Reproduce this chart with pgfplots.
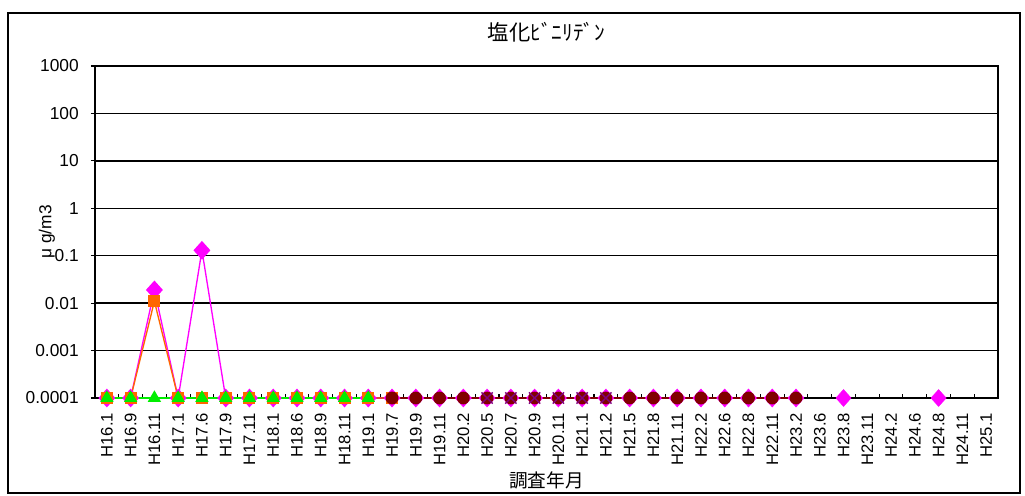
\documentclass[border=0pt]{standalone}
\usepackage{fontspec}
\setmainfont{Liberation Sans}
\newfontfamily\jp{Noto Sans CJK JP}
\usepackage{pgfplots}
\pgfplotsset{compat=1.18}
\definecolor{exorange}{HTML}{FF6600}
\definecolor{exgreen}{HTML}{00EE00}
\definecolor{exmag}{HTML}{FF00FF}
\definecolor{exdred}{HTML}{800000}
\definecolor{expurple}{HTML}{800080}

\begin{document}
\begin{tikzpicture}
\useasboundingbox (-71.25pt,-73.5pt) rectangle (697.5pt,298.5pt);
\draw[line width=1pt] (-65.25pt,-71.25pt) rectangle (693.75pt,288.75pt);
\begin{axis}[
  at={(0,0)}, anchor=south west,
  scale only axis, width=677.25pt, height=249pt,
  ymode=log, ymin=1e-4, ymax=1e3,
  xmin=-0.5, xmax=37.5,
  xtick={0,...,37},
  xticklabels={H16.1,H16.9,H16.11,H17.1,H17.6,H17.9,H17.11,H18.1,H18.6,H18.9,H18.11,H19.1,H19.7,H19.9,H19.11,H20.2,H20.5,H20.7,H20.9,H20.11,H21.1,H21.2,H21.5,H21.8,H21.11,H22.2,H22.6,H22.8,H22.11,H23.2,H23.6,H23.8,H23.11,H24.2,H24.6,H24.8,H24.11,H25.1},
  major x tick style={draw=none},
  minor xtick={-0.5,0.5,...,37.5},
  xtick pos=bottom, ytick pos=left,
  ytick={1e-4,1e-3,1e-2,1e-1,1,10,100,1000},
  yticklabels={0.0001,0.001,0.01,0.1,1,10,100,1000},
  yminorticks=false,
  y tick style={xshift=-3pt},
  tick style={black, line width=0.8pt},
  major tick length=3pt, minor tick length=3pt,
  ymajorgrids, major grid style={black, line width=1pt},
  axis line style={line width=1.3pt},
  xticklabel style={rotate=90, anchor=east, inner sep=0pt, font=\fontsize{12.5}{14}\selectfont},
  xticklabel shift=11pt,
  yticklabel style={anchor=east, inner sep=0pt, font=\fontsize{13}{15}\selectfont},
  yticklabel shift=12pt,
  title={\jp 塩化ﾋﾞﾆﾘﾃﾞﾝ},
  title style={at={(rel axis cs:0.5,1)}, anchor=center, yshift=19.5pt, font=\fontsize{16}{18}\selectfont},
  xlabel={\jp 調査年月},
  xlabel style={at={(rel axis cs:0.5,0)}, anchor=center, yshift=-62pt, font=\fontsize{14}{16}\selectfont},
  ylabel={μ g/m3},
  ylabel style={at={(axis description cs:-0.0532,0.5)}, anchor=center, font=\fontsize{13}{15}\selectfont},
  clip=false,
]
% magenta diamonds
\addplot[exmag, line width=1pt, mark=diamond*, mark size=6.3pt, mark options={solid, xscale=1.2}] coordinates {
(0,1e-4)(1,1e-4)(2,0.019)(3,1e-4)(4,0.13)(5,1e-4)(6,1e-4)(7,1e-4)(8,1e-4)(9,1e-4)
(10,1e-4)(11,1e-4)(12,1e-4)(13,1e-4)(14,1e-4)(15,1e-4)(16,1e-4)(17,1e-4)(18,1e-4)(19,1e-4)
(20,1e-4)(21,1e-4)(22,1e-4)(23,1e-4)(24,1e-4)(25,1e-4)(26,1e-4)(27,1e-4)(28,1e-4)(29,1e-4)};
\addplot[exmag, only marks, mark=diamond*, mark size=6.3pt, mark options={solid, xscale=1.2}] coordinates {
(31,1e-4)(35,1e-4)};
% orange squares
\addplot[exorange, line width=1pt, mark=square*, mark size=4pt, mark options={solid}] coordinates {
(0,1e-4)(1,1e-4)(2,0.011)(3,1e-4)(4,1e-4)(5,1e-4)(6,1e-4)(7,1e-4)(8,1e-4)(9,1e-4)
(10,1e-4)(11,1e-4)(12,1e-4)};
% green triangles
\addplot[exgreen, line width=1pt, mark=triangle*, mark size=4.8pt, mark options={solid}] coordinates {
(0,1e-4)(1,1e-4)(2,1e-4)(3,1e-4)(4,1e-4)(5,1e-4)(6,1e-4)(7,1e-4)(8,1e-4)(9,1e-4)
(10,1e-4)(11,1e-4)};
% dark red circles
\addplot[exdred, line width=1pt, mark=*, mark size=4.3pt, mark options={solid}] coordinates {
(12,1e-4)(13,1e-4)(14,1e-4)(15,1e-4)(16,1e-4)(17,1e-4)(18,1e-4)(19,1e-4)(20,1e-4)
(21,1e-4)(22,1e-4)(23,1e-4)(24,1e-4)(25,1e-4)(26,1e-4)(27,1e-4)(28,1e-4)(29,1e-4)};
% purple crosses
\addplot[expurple, only marks, mark=x, mark size=6pt, mark options={solid, line width=1pt}] coordinates {
(16,1e-4)(17,1e-4)(18,1e-4)(19,1e-4)(20,1e-4)(21,1e-4)};
\end{axis}
\end{tikzpicture}
\end{document}
